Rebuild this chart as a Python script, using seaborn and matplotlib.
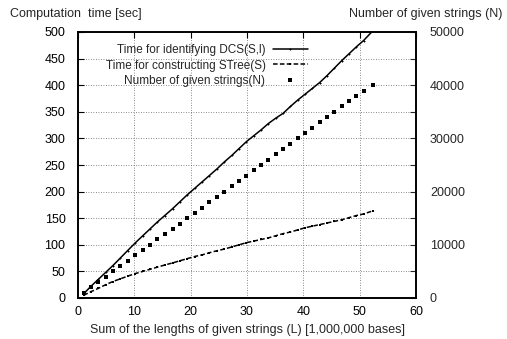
import numpy as np
import pandas as pd
import seaborn as sns
import matplotlib.pyplot as plt
from matplotlib.lines import Line2D
from matplotlib.ticker import MultipleLocator

# Sum of lengths L [1,000,000 bases] for each measured point
length_L = [1.0, 2.3, 3.6, 4.9, 6.2, 7.5, 8.8, 10.2, 11.5, 12.8,
            14.1, 15.4, 16.8, 18.1, 19.4, 20.7, 22.0, 23.3, 24.7, 26.0,
            27.3, 28.6, 29.9, 31.2, 32.5, 33.8, 35.1, 36.4, 37.7, 39.0,
            40.3, 41.6, 42.9, 44.2, 45.5, 46.8, 48.1, 49.4, 50.7, 52.4]
# Time for identifying DCS(S,l) [sec]
time_dcs = [8, 22, 35, 48, 61, 75, 89, 104, 117, 130,
            143, 155, 168, 181, 194, 206, 218, 230, 243, 256,
            268, 281, 294, 305, 316, 328, 338, 347, 360, 372,
            383, 394, 405, 418, 432, 446, 459, 472, 484, 503]
# Time for constructing STree(S) [sec]
time_stree = [5, 12, 18, 25, 31, 36, 41, 46, 50, 54,
              58, 62, 66, 70, 74, 78, 81, 85, 89, 92,
              96, 100, 104, 107, 110, 113, 117, 121, 124, 128,
              132, 135, 138, 141, 144, 147, 151, 155, 158, 164]
# Number of given strings N
num_strings = [1000, 2000, 3000, 4000, 5000, 6000, 7000, 8000, 9000, 10000,
               11000, 12000, 13000, 14000, 15000, 16000, 17000, 18000, 19000, 20000,
               21000, 22000, 23000, 24000, 25000, 26000, 27000, 28000, 29000, 30000,
               31000, 32000, 33000, 34000, 35000, 36000, 37000, 38000, 39000, 40000]

df = pd.DataFrame({'L': length_L, 'dcs': time_dcs, 'stree': time_stree, 'N': num_strings})

sns.set_theme(style="white")
plt.rcParams['font.family'] = ['Liberation Sans', 'DejaVu Sans']
plt.rcParams['font.size'] = 9

fig = plt.figure(figsize=(5.07, 3.39), dpi=100)
ax = fig.add_axes([78 / 507, 1 - 298 / 339, (416 - 78) / 507, (298 - 32) / 339])
ax2 = ax.twinx()

sns.lineplot(data=df, x='L', y='dcs', ax=ax, color='black', linewidth=1.1,
             marker='+', markersize=2, markeredgewidth=0.7, markeredgecolor='black')
sns.lineplot(data=df, x='L', y='stree', ax=ax, color='black', linewidth=1.1,
             linestyle=(0, (3, 1.5)), marker='s', markersize=2,
             markeredgewidth=0, markerfacecolor='black')
sns.scatterplot(data=df, x='L', y='N', ax=ax2, color='black', marker='s', s=10,
                linewidth=0)

ax.set_xlim(0, 60)
ax.set_ylim(0, 500)
ax2.set_ylim(0, 50000)
ax.xaxis.set_major_locator(MultipleLocator(10))
ax.yaxis.set_major_locator(MultipleLocator(50))
ax2.yaxis.set_major_locator(MultipleLocator(10000))
ax2.yaxis.set_minor_locator(MultipleLocator(5000))

ax.grid(True, linestyle=(0, (1, 2)), color='#666666', linewidth=0.6)
ax.set_xlabel('Sum of the lengths of given strings (L) [1,000,000 bases]', fontsize=9, labelpad=4)
ax.set_ylabel('')
ax2.set_ylabel('')

ax.tick_params(axis='both', direction='in', length=4, width=0.8, colors='black',
               labelsize=9, top=True, right=False, pad=6)
ax.tick_params(axis='y', pad=9)
ax2.tick_params(axis='y', which='both', direction='in', length=4, width=0.8,
                labelsize=9, pad=10)
for a in (ax, ax2):
    for s in a.spines.values():
        s.set_color('black')
        s.set_linewidth(1.2)

fig.text(10 / 507, 1 - 17 / 339, 'Computation  time [sec]', fontsize=9, va='baseline')
fig.text(502 / 507, 1 - 17 / 339, 'Number of given strings (N)', fontsize=9,
         va='baseline', ha='right')

handles = [
    Line2D([], [], color='black', linewidth=1.1, marker='+', markersize=2, markeredgewidth=0.7),
    Line2D([], [], color='black', linewidth=1.1, linestyle=(0, (3, 1.5)), marker='s',
           markersize=2, markeredgewidth=0),
    Line2D([], [], color='black', linestyle='none', marker='s', markersize=3, markeredgewidth=0),
]
labels = ['Time for identifying DCS(S,l)', 'Time for constructing STree(S)',
          'Number of given strings(N)']
ax.legend(handles, labels, loc='upper right', bbox_to_anchor=(308 / 507, 1 - 44 / 339),
          bbox_transform=fig.transFigure, frameon=False, markerfirst=False,
          fontsize=8.5, handlelength=3, handletextpad=0.6, labelspacing=0.3,
          borderpad=0, borderaxespad=0)

fig.savefig('out.png', dpi=100)
